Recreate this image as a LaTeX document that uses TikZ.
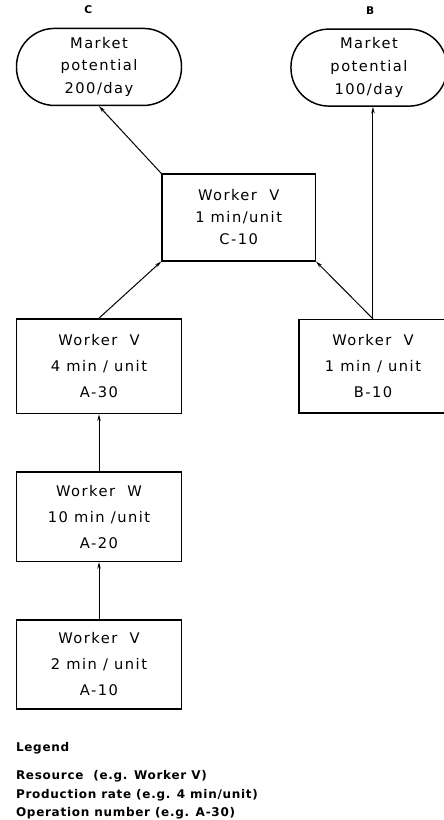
\documentclass[tikz,border=0pt]{standalone}
\usepackage{fontspec}
\setmainfont{DejaVu Sans}[LetterSpace=6]
\newfontfamily\boxfont{DejaVu Sans}[LetterSpace=10]
\usepackage{tikz}
\usetikzlibrary{arrows.meta, positioning, calc}

\begin{document}
\begin{tikzpicture}[
    x=0.75pt, y=-0.75pt,
    node distance=42.75pt,
    opbox/.style={rectangle, draw, line width=1.1pt, minimum width=123.75pt, minimum height=67pt, align=center, font=\boxfont\fontsize{11}{19.5}\selectfont, inner sep=2pt},
    market/.style={rectangle, draw, line width=1.1pt, rounded corners=28.5pt, minimum width=123.75pt, minimum height=57.75pt, align=center, font=\boxfont\fontsize{11}{17}\selectfont},
    product/.style={font=\fontsize{8}{10}\selectfont\bfseries, inner sep=0pt},
    legendtxt/.style={font=\fontsize{9}{14}\selectfont\bfseries, inner sep=0pt, align=left},
    arrow/.style={-{Stealth[length=5pt, width=2.6pt]}, line width=0.75pt}
]
    \useasboundingbox (0,0) rectangle (443,820);

    \node[opbox] (a10) at (99,664.5) {Worker\ \ V\\2 min / unit\\A-10};
    \node[opbox, above=of a10] (a20) {Worker\ \ W\\10 min /unit\\A-20};
    \node[opbox, above=of a20, minimum height=71pt] (a30) {Worker\ \ V\\4 min / unit\\A-30};
    \node[opbox, right=87pt of a30, minimum width=111pt, minimum height=70pt] (b10) {Worker\ \ V\\1 min / unit\\B-10};
    \coordinate (mid) at ($(a30.north)!0.5!(b10.north)$);
    \node[opbox, above=42.75pt of mid, xshift=2pt, minimum width=115pt, minimum height=65pt, font=\boxfont\fontsize{11}{16.5}\selectfont] (c10) {Worker\ \ V\\1 min/unit\\C-10};
    \node[market, above=159pt of a30] (mktc) {Market\\potential\\200/day};
    \node[market, above=159pt of b10, xshift=-3pt, minimum width=117pt] (mktb) {Market\\potential\\100/day};
    \node[product, above=10pt of mktc, xshift=-8pt] (prodc) {C};
    \node[product, above=10pt of mktb, xshift=1pt] (prodb) {B};

    \draw[arrow] (a10) -- (a20);
    \draw[arrow] (a20) -- (a30);
    \draw[arrow] (a30.north) -- (c10.south west);
    \draw[arrow] (b10.north) -- (c10.south east);
    \draw[arrow] (c10.north west) -- (mktc.south);
    \draw[arrow] (b10.north) -- (b10.north |- mktb.south);

    % legend
    \node[legendtxt, below right=24pt and 0pt of a10.south west] (legend) {Legend};
    \node[legendtxt, below right=12pt and 0pt of legend.south west] (keys) {Resource\ \ (e.g. Worker\ V)\\Production\ rate\ (e.g. 4 min/unit)\\Operation\ number\ (e.g. A-30)};
\end{tikzpicture}
\end{document}
